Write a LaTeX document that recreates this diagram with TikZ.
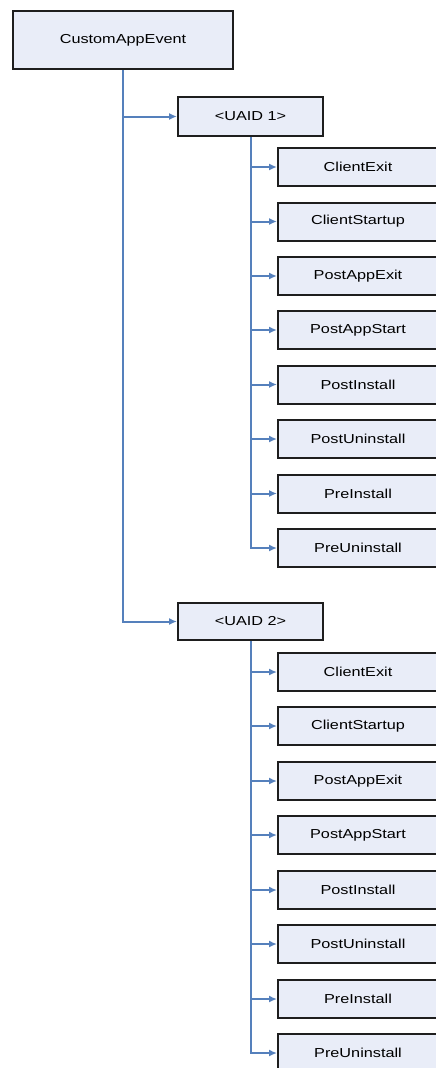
\documentclass[tikz,border=0pt]{standalone}
\usepackage{fontspec}
\newfontfamily\boxfont[FakeStretch=1.25]{Liberation Sans}
\usetikzlibrary{arrows.meta}
\definecolor{boxfill}{HTML}{E9EDF8}
\definecolor{boxline}{HTML}{1E1E1E}
\definecolor{linkblue}{HTML}{5580BC}
\tikzset{
  treebox/.style={draw=boxline, line width=2pt, fill=boxfill, inner sep=0pt,
    font=\boxfont\fontsize{13}{15}\selectfont, anchor=north west},
  link/.style={draw=linkblue, line width=2pt, -{Latex[length=8pt,width=7pt]}},
}
\begin{document}
\begin{tikzpicture}[x=1pt,y=-1pt]
\useasboundingbox (0,0) rectangle (436,1068);
\clip (0,0) rectangle (436,1068);
% root
\node[treebox, minimum width=220pt, minimum height=58pt] (root) at (12,10) {CustomAppEvent};
% UAID nodes
\node[treebox, minimum width=145pt, minimum height=39pt] (u1) at (177,96) {<UAID 1>};
\node[treebox, minimum width=145pt, minimum height=37pt] (u2) at (177,602) {<UAID 2>};
\draw[link] (root.south) |- (u1.west);
\draw[link] (root.south) |- (u2.west);
% children
\foreach \name/\txt/\yy in {
  a1/ClientExit/147, a2/ClientStartup/201.5, a3/PostAppExit/256, a4/PostAppStart/310,
  a5/PostInstall/364.5, a6/PostUninstall/419, a7/PreInstall/473.5, a8/PreUninstall/528}{
  \node[treebox, minimum width=160pt, minimum height=38pt] (\name) at (277,\yy) {\txt};
  \draw[link] (u1.south) |- (\name.west);
}
\foreach \name/\txt/\yy in {
  b1/ClientExit/652, b2/ClientStartup/706, b3/PostAppExit/761, b4/PostAppStart/815,
  b5/PostInstall/870, b6/PostUninstall/924, b7/PreInstall/979, b8/PreUninstall/1033}{
  \node[treebox, minimum width=160pt, minimum height=38pt] (\name) at (277,\yy) {\txt};
  \draw[link] (u2.south) |- (\name.west);
}
\end{tikzpicture}
\end{document}
